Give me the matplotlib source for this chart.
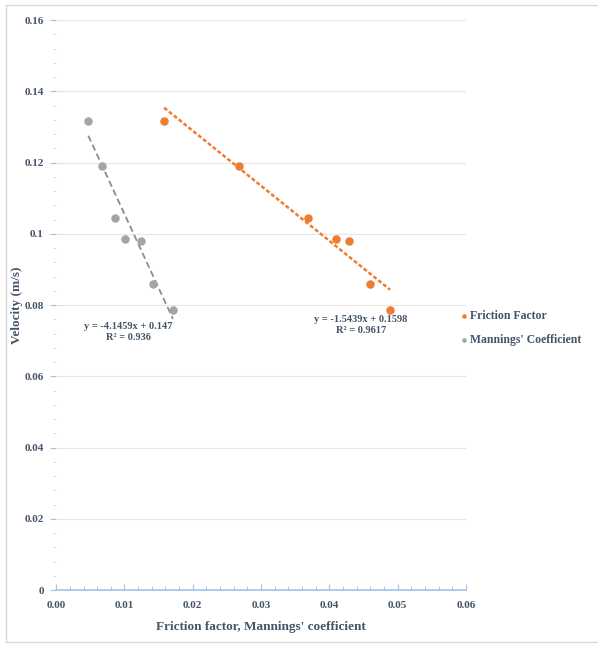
import numpy as np
import matplotlib.pyplot as plt
from matplotlib.patches import Rectangle
from matplotlib.ticker import MultipleLocator, FixedFormatter, FixedLocator

# velocity (m/s) shared by both series
velocity = [0.1317, 0.1189, 0.1045, 0.0986, 0.0979, 0.0859, 0.0786]
friction = [0.0158, 0.0268, 0.0369, 0.0410, 0.0429, 0.0460, 0.0489]
mannings = [0.0047, 0.0067, 0.0086, 0.0101, 0.0124, 0.0142, 0.0171]

# trendline coefficients (slope, intercept)
fric_fit = (-1.5439, 0.1598)
mann_fit = (-4.1459, 0.147)

y_ticks = [0, 0.02, 0.04, 0.06, 0.08, 0.1, 0.12, 0.14, 0.16]
y_labels = ['0', '0.02', '0.04', '0.06', '0.08', '0.1', '0.12', '0.14', '0.16']
x_ticks = [0.0, 0.01, 0.02, 0.03, 0.04, 0.05, 0.06]
x_labels = ['0.00', '0.01', '0.02', '0.03', '0.04', '0.05', '0.06']

orange = '#ED7D31'
gray = '#A5A5A5'
txt = '#44546A'
axcol = '#9DC3E6'

plt.rcParams['font.family'] = ['Liberation Serif', 'DejaVu Serif']
plt.rcParams['font.weight'] = 'bold'

fig = plt.figure(figsize=(5.98, 6.47), dpi=100)
ax = fig.add_axes([0.094, 0.088, 0.685, 0.881])

# outer frame
fig.patches.append(Rectangle((0.010, 0.008), 1.2, 0.984, transform=fig.transFigure,
                             fill=False, edgecolor='#D9D9D9', linewidth=1))

for v in y_ticks[1:]:
    ax.axhline(v, color='#E6E6E6', linewidth=0.8, zorder=0)

ax.scatter(friction, velocity, s=26, color=orange, zorder=3, label='Friction Factor')
ax.scatter(mannings, velocity, s=26, color=gray, zorder=3, label="Mannings' Coefficient")

xf = np.array([min(friction), max(friction)])
ax.plot(xf, fric_fit[0] * xf + fric_fit[1], color=orange, linewidth=1.8,
        linestyle=(0, (1.6, 0.9)), zorder=2)
xm = np.array([min(mannings), max(mannings)])
ax.plot(xm, mann_fit[0] * xm + mann_fit[1], color='#8C8C8C', linewidth=1.3,
        linestyle=(0, (3.5, 2)), zorder=2)

ax.text(0.0446, 0.0744, 'y = -1.5439x + 0.1598\nR² = 0.9617', ha='center', va='center',
        fontsize=7.5, color=txt, linespacing=1.25)
ax.text(0.0106, 0.0724, 'y = -4.1459x + 0.147\nR² = 0.936', ha='center', va='center',
        fontsize=7.5, color=txt, linespacing=1.25)

ax.set_xlim(0, 0.06)
ax.set_ylim(0, 0.16)
ax.yaxis.set_major_locator(FixedLocator(y_ticks))
ax.yaxis.set_major_formatter(FixedFormatter(y_labels))
ax.yaxis.set_minor_locator(MultipleLocator(0.004))
ax.xaxis.set_major_locator(FixedLocator(x_ticks))
ax.xaxis.set_major_formatter(FixedFormatter(x_labels))
ax.xaxis.set_minor_locator(MultipleLocator(0.002))

for s in ['top', 'right', 'left']:
    ax.spines[s].set_visible(False)
ax.spines['bottom'].set_color(axcol)
ax.spines['bottom'].set_linewidth(1.2)

ax.tick_params(axis='y', which='major', length=4, color=axcol, labelsize=8,
               labelcolor=txt, pad=5)
ax.tick_params(axis='y', which='minor', length=2, color='#BDD7EE')
ax.tick_params(axis='x', which='major', direction='in', length=4, color=axcol,
               labelsize=8, labelcolor=txt, pad=8)
ax.tick_params(axis='x', which='minor', direction='in', length=3, color=axcol)

ax.set_xlabel("Friction factor, Mannings' coefficient", fontsize=9.5, color=txt,
              fontweight='bold', labelpad=8)
ax.set_ylabel('Velocity (m/s)', fontsize=9.5, color=txt, fontweight='bold')
ax.yaxis.set_label_coords(-0.08, 0.5)

leg = ax.legend(loc='center left', bbox_to_anchor=(0.96, 0.46), frameon=False,
                fontsize=8.5, handletextpad=0.15, markerscale=0.45, labelspacing=1.0,
                handlelength=0.7)
for t in leg.get_texts():
    t.set_color(txt)

fig.savefig('out.png', dpi=100, facecolor='white')
